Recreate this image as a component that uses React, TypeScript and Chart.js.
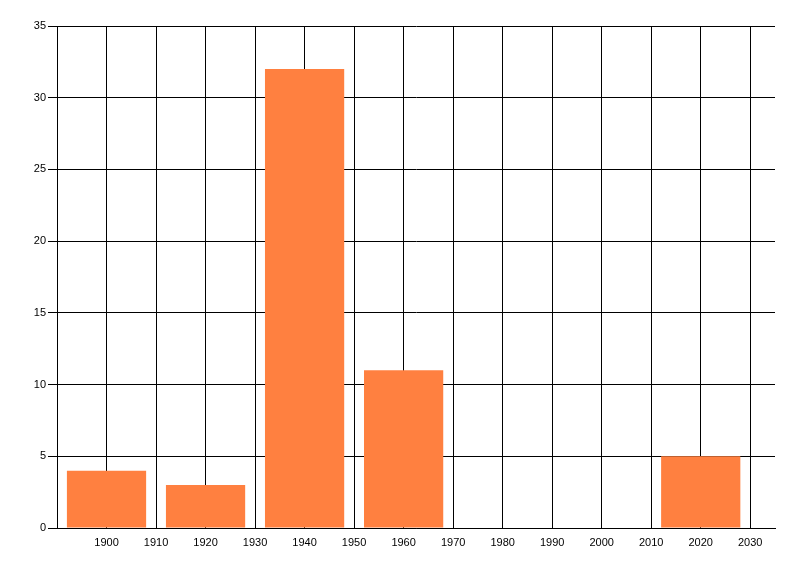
import React, { useEffect, useRef } from "react";
import { Chart, registerables } from "chart.js";

Chart.register(...registerables);

const years = [1900, 1920, 1940, 1960, 2020];
const counts = [4, 3, 32, 11, 5];
const xTickValues = [1900, 1910, 1920, 1930, 1940, 1950, 1960, 1970, 1980, 1990, 2000, 2010, 2020, 2030];
const xMin = 1890;
const xMax = 2035;
const yMin = 0;
const yMax = 35;
const yStep = 5;

export default function App() {
  const ref = useRef<HTMLCanvasElement | null>(null);

  useEffect(() => {
    if (!ref.current) return;
    const font = { family: "'Liberation Sans', Arial, sans-serif", size: 11 };
    const chart = new Chart(ref.current, {
      type: "bar",
      data: {
        datasets: [
          {
            data: years.map((y, i) => ({ x: y, y: counts[i] })),
            backgroundColor: "#FF8040",
            borderWidth: 0,
            categoryPercentage: 1,
            barPercentage: 1.6,
          },
        ],
      },
      options: {
        animation: false,
        responsive: false,
        maintainAspectRatio: false,
        layout: { padding: { top: 26, right: 25, left: 0, bottom: 0 } },
        plugins: { legend: { display: false }, tooltip: { enabled: false } },
        scales: {
          x: {
            type: "linear",
            offset: false,
            min: xMin,
            max: xMax,
            afterBuildTicks: (scale: any) => {
              scale.ticks = xTickValues.map((v) => ({ value: v }));
            },
            afterFit: (scale: any) => {
              scale.height = 48;
            },
            grid: { color: "#000", lineWidth: 1, drawTicks: false, offset: false },
            border: { display: true, color: "#000", width: 1 },
            ticks: {
              color: "#000",
              font,
              padding: 8,
              maxRotation: 0,
              autoSkip: false,
              callback: (v: any) => String(v),
            },
          },
          y: {
            min: yMin,
            max: yMax,
            afterFit: (scale: any) => {
              scale.width = 57;
            },
            grid: { color: "#000", lineWidth: 1, drawTicks: true, tickLength: 9 },
            border: { display: true, color: "#000", width: 1 },
            ticks: { stepSize: yStep, color: "#000", font, padding: 2 },
          },
        },
      },
    });
    return () => chart.destroy();
  }, []);

  return (
    <div style={{ position: "absolute", left: 0, top: 0, width: 800, height: 576, background: "#fff" }}>
      <canvas ref={ref} width={800} height={576} style={{ width: 800, height: 576, display: "block" }} />
    </div>
  );
}
